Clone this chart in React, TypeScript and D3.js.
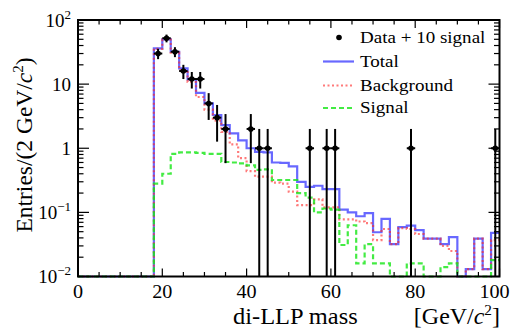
import React from "react";
import * as d3 from "d3";

const width = 532;
const height = 334;
const frame = { left: 78, right: 499.5, top: 20, bottom: 276.5 };

// 2 GeV bins from 0 to 100
const binWidth = 2;
const binEdges = d3.range(0, 101, binWidth);

// histogram contents, one value per bin
const totalValues = [
  0, 0, 0, 0, 0, 0, 0, 0, 0, 36,
  50, 32, 17.6, 11.8, 7.3, 5.0, 3.3, 2.3, 1.7, 1.33,
  1.0, 0.88, 0.86, 0.6, 0.59, 0.52, 0.3, 0.25, 0.26, 0.23,
  0.23, 0.11, 0.1, 0.087, 0.097, 0.049, 0.079, 0.032, 0.059, 0.062,
  0.053, 0.039, 0.039, 0.032, 0.041, 0, 0.013, 0.039, 0.013, 0.048,
];
const backgroundValues = [
  0, 0, 0, 0, 0, 0, 0, 0, 0, 35.5,
  49.5, 31, 16.5, 10.8, 6.3, 4.0, 2.7, 1.8, 1.15, 0.7,
  0.44, 0.36, 0.36, 0.29, 0.28, 0.21, 0.13, 0.13, 0.16, 0.12,
  0.12, 0.078, 0.078, 0.072, 0.068, 0.037, 0.055, 0.032, 0.057, 0.055,
  0.046, 0.039, 0.039, 0.03, 0.025, 0, 0.013, 0.039, 0.013, 0.037,
];
const signalValues = [
  0, 0, 0, 0, 0, 0, 0, 0, 0, 0.28,
  0.4, 0.82, 0.86, 0.86, 0.85, 0.82, 0.82, 0.61, 0.6, 0.58,
  0.54, 0.46, 0.47, 0.32, 0.32, 0.32, 0.2, 0.17, 0.1, 0.115,
  0.11, 0.031, 0.063, 0.016, 0.032, 0.016, 0.016, 0, 0, 0.016,
  0.016, 0, 0, 0.014, 0.016, 0, 0, 0, 0, 0.018,
];

// data points: bin centre and entries
const dataCenters = [19, 21, 23, 25, 27, 29, 31, 33, 35, 41, 43, 45, 55, 59, 61, 79, 99];
const dataCounts = [30, 52, 32, 16, 12, 12, 5, 3, 2, 2, 1, 1, 1, 1, 1, 1, 1];

const xTickValues = [0, 20, 40, 60, 80, 100];
const yTickValues = [0.01, 0.1, 1, 10, 100];
const yTickBase = ["10", "10", "1", "10", "10"];
const yTickExp = ["\u22122", "\u22121", "", "", "2"];

const legendNames = ["Data + 10 signal", "Total", "Background", "Signal"];

const font = '"Liberation Serif", "Times New Roman", Times, "DejaVu Serif", serif';

const x = d3.scaleLinear().domain([0, 100]).range([frame.left, frame.right]);
const y = d3.scaleLog().domain([0.01, 100]).range([frame.bottom, frame.top]);
const yv = (v: number) => y(Math.max(v, 0.01));

const stepLine = d3
  .line<[number, number]>()
  .x((d) => x(d[0]))
  .y((d) => yv(d[1]))
  .curve(d3.curveStepAfter);

const histPath = (values: number[]) => {
  const pts: [number, number][] = values.map((v, i) => [binEdges[i], v]);
  pts.push([binEdges[values.length], values[values.length - 1]]);
  return stepLine(pts) || "";
};

const blue = "rgba(40,40,255,0.7)";
const red = "rgba(255,40,40,0.62)";
const green = "rgba(20,230,20,0.8)";

// text slightly stretched sideways, as in the original rendering
const Wide = ({ x, y, sx = 1.12, anchor = "start", size, children }: any) => (
  <text
    transform={`translate(${x},${y}) scale(${sx},1)`}
    fontSize={size}
    textAnchor={anchor}
  >
    {children}
  </text>
);

export default function App() {
  const xMinor = d3.range(0, 101, 5);
  const yMinor: number[] = [];
  [0.01, 0.1, 1, 10].forEach((d) => {
    for (let k = 2; k <= 9; k++) yMinor.push(d * k);
  });

  const legendLineY = [61.5, 85.5, 108];

  return (
    <svg
      width={width}
      height={height}
      style={{ position: "absolute", left: 0, top: 0, background: "#fff", fontFamily: font }}
    >
      {/* histograms */}
      <path d={histPath(totalValues)} fill="none" stroke={blue} strokeWidth={2.2} />
      <path
        d={histPath(backgroundValues)}
        fill="none"
        stroke={red}
        strokeWidth={2.2}
        strokeDasharray="2,2.5"
      />
      <path
        d={histPath(signalValues)}
        fill="none"
        stroke={green}
        strokeWidth={2.2}
        strokeDasharray="5,3"
      />

      {/* data points */}
      {dataCenters.map((c, i) => {
        const n = dataCounts[i];
        const err = Math.sqrt(n);
        return (
          <g key={i}>
            <line
              x1={x(c)}
              x2={x(c)}
              y1={yv(n - err)}
              y2={yv(n + err)}
              stroke="#000"
              strokeWidth={2}
            />
            <line
              x1={x(c - binWidth / 2)}
              x2={x(c + binWidth / 2)}
              y1={yv(n)}
              y2={yv(n)}
              stroke="#000"
              strokeWidth={2}
            />
            <circle cx={x(c)} cy={yv(n)} r={2.8} fill="#000" />
          </g>
        );
      })}

      {/* ticks */}
      <g stroke="#000" strokeWidth={1.2}>
        {xMinor.map((t) => {
          const len = t % 20 === 0 ? 8 : 4.5;
          return (
            <g key={"x" + t}>
              <line x1={x(t)} x2={x(t)} y1={frame.bottom} y2={frame.bottom - len} />
              <line x1={x(t)} x2={x(t)} y1={frame.top} y2={frame.top + len} />
            </g>
          );
        })}
        {yMinor.map((t) => (
          <g key={"ym" + t}>
            <line x1={frame.left} x2={frame.left + 5.5} y1={y(t)} y2={y(t)} />
            <line x1={frame.right} x2={frame.right - 5.5} y1={y(t)} y2={y(t)} />
          </g>
        ))}
        {yTickValues.map((t) => (
          <g key={"yM" + t}>
            <line x1={frame.left} x2={frame.left + 11} y1={y(t)} y2={y(t)} />
            <line x1={frame.right} x2={frame.right - 11} y1={y(t)} y2={y(t)} />
          </g>
        ))}
      </g>

      {/* frame */}
      <rect
        x={frame.left}
        y={frame.top}
        width={frame.right - frame.left}
        height={frame.bottom - frame.top}
        fill="none"
        stroke="#000"
        strokeWidth={2}
      />

      {/* x tick labels */}
      {xTickValues.map((t, i) => (
        <Wide
          key={"xl" + t}
          x={x(t) - (i === xTickValues.length - 1 ? 5 : 0)}
          y={298}
          size={18}
          sx={1.12}
          anchor="middle"
        >
          {t}
        </Wide>
      ))}

      {/* y tick labels */}
      {yTickValues.map((t, i) => (
        <text key={"yl" + t} x={71} y={y(t) + 6.5} fontSize={19} textAnchor="end">
          {yTickBase[i]}
          {yTickExp[i] && (
            <tspan dy={-8} fontSize={13}>
              {yTickExp[i]}
            </tspan>
          )}
        </text>
      ))}

      {/* axis titles */}
      <Wide x={233} y={324} size={23.5} sx={1.04}>
        di-LLP mass
      </Wide>
      <Wide x={500} y={324} size={23.5} sx={1.02} anchor="end">
        [GeV/<tspan fontStyle="italic">c</tspan>
        <tspan dy={-9} fontSize={15}>2</tspan>
        <tspan dy={9}>]</tspan>
      </Wide>
      <text
        transform="translate(31.5,145) rotate(-90)"
        fontSize={23.5}
        textAnchor="middle"
      >
        Entries/(2 GeV/<tspan fontStyle="italic">c</tspan>
        <tspan dy={-9} fontSize={15}>2</tspan>
        <tspan dy={9}>)</tspan>
      </text>

      {/* legend */}
      <circle cx={339} cy={37.5} r={2.8} fill="#000" />
      <line
        x1={323}
        x2={354}
        y1={legendLineY[0]}
        y2={legendLineY[0]}
        stroke={blue}
        strokeWidth={2.2}
      />
      <line
        x1={323}
        x2={354}
        y1={legendLineY[1]}
        y2={legendLineY[1]}
        stroke={red}
        strokeWidth={2.2}
        strokeDasharray="2,2.5"
      />
      <line
        x1={323}
        x2={354}
        y1={legendLineY[2]}
        y2={legendLineY[2]}
        stroke={green}
        strokeWidth={2.2}
        strokeDasharray="5,3"
      />
      {legendNames.map((name, i) => (
        <Wide key={name} x={360} y={[42.5, 66.5, 90.5, 112.5][i]} size={17} sx={1.12}>
          {name}
        </Wide>
      ))}
    </svg>
  );
}
